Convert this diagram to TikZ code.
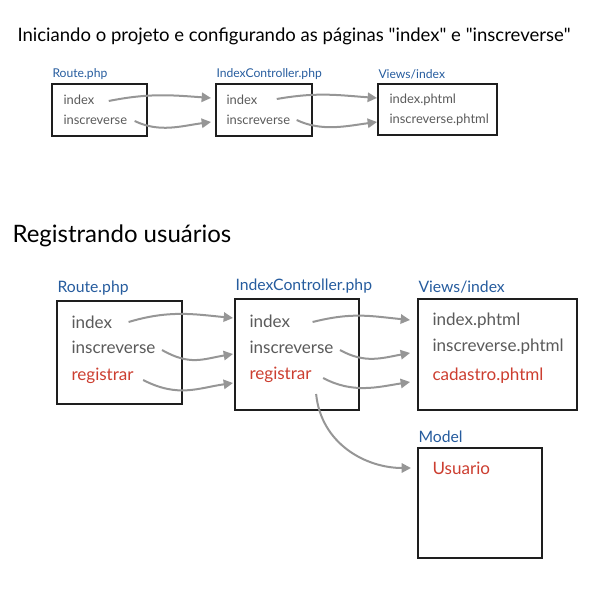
\documentclass[tikz,border=0pt]{standalone}
\usepackage{fontspec}
\setmainfont{Lato}
\usetikzlibrary{arrows.meta,calc}
\definecolor{lblblue}{RGB}{38,92,158}
\definecolor{itemgray}{RGB}{90,90,90}
\definecolor{itemred}{RGB}{204,62,48}
\definecolor{flowgray}{RGB}{150,150,150}
\definecolor{boxline}{RGB}{30,30,30}
\tikzset{every picture/.style={line width=0.75pt},
  titlehead/.style={anchor=west, inner sep=0, text=black, font=\fontsize{13.9}{16}\selectfont},
  sechead/.style={anchor=west, inner sep=0, text=black, font=\fontsize{18}{21}\selectfont},
  boxline/.style={draw=boxline, line width=1.4pt},
  lblsmall/.style={anchor=south west, inner sep=0, text=lblblue, font=\fontsize{9.1}{11}\selectfont},
  lblbig/.style={anchor=south west, inner sep=0, text=lblblue, font=\fontsize{11.8}{14}\selectfont},
  itemsmall/.style={anchor=west, inner sep=0, text=itemgray, font=\fontsize{9.7}{12}\selectfont},
  itembig/.style={anchor=west, inner sep=0, text=itemgray, font=\fontsize{12.8}{15}\selectfont},
  itemnew/.style={itembig, text=itemred},
  flow/.style={draw=flowgray, line width=1.5pt, -{Triangle[length=7pt,width=7pt]}}
}

\begin{document}
\begin{tikzpicture}[x=0.75pt,y=0.75pt,yscale=-1,xscale=1]
\useasboundingbox (0,0) rectangle (609,598);

%Titles
\node[titlehead] (ttlA) at (17,36) {Iniciando o projeto e configurando as páginas \textquotedbl index\textquotedbl{} e \textquotedbl inscreverse\textquotedbl};
\node[sechead] (ttlB) at (12,236) {Registrando usuários};

%Top row: boxes
\draw[boxline] (52,84) rectangle (147,136);
\draw[boxline] (216,84) rectangle (312,136);
\draw[boxline] (378,84) rectangle (497,135);
\node[lblsmall] (lrA) at (52,80) {Route.php};
\node[lblsmall] (lcA) at (216,80) {IndexController.php};
\node[lblsmall] (lvA) at (378,80) {Views/index};

%Top row: items
\node[itemsmall] (rA1) at (63,100) {index};
\node[itemsmall] (rA2) at (63,120) {inscreverse};
\node[itemsmall] (cA1) at (226,100) {index};
\node[itemsmall] (cA2) at (226,120) {inscreverse};
\node[itemsmall] (vA1) at (389,100) {index.phtml};
\node[itemsmall] (vA2) at (389,120) {inscreverse.phtml};

%Top row: arrows
\draw[flow] ($(rA1.east)+(14,1)$) .. controls +(40,-8) and +(-40,-3) .. ($(cA1.west)+(-15,-2)$);
\draw[flow] ($(rA2.east)+(7,1)$) .. controls +(25,12) and +(-30,4) .. ($(cA2.west)+(-15,2)$);
\draw[flow] ($(cA1.east)+(19,-1)$) .. controls +(40,-7) and +(-40,-3) .. ($(vA1.west)+(-12,-2)$);
\draw[flow] ($(cA2.east)+(6,0)$) .. controls +(25,12) and +(-30,4) .. ($(vA2.west)+(-12,2)$);

%Bottom row: boxes
\draw[boxline] (57,301) rectangle (182,404);
\draw[boxline] (235,299) rectangle (359,410);
\draw[boxline] (418,299) rectangle (577,410);
\draw[boxline] (418,448) rectangle (542,558);
\node[lblbig] (lrB) at (57,296) {Route.php};
\node[lblbig] (lcB) at (235,294) {IndexController.php};
\node[lblbig] (lvB) at (418,294) {Views/index};
\node[lblbig] (lmB) at (418,443) {Model};

%Bottom row: items
\node[itembig] (rB1) at (71,322) {index};
\node[itembig] (rB2) at (71,347) {inscreverse};
\node[itemnew] (rB3) at (71,376) {registrar};
\node[itembig] (cB1) at (249,321) {index};
\node[itembig] (cB2) at (249,347) {inscreverse};
\node[itemnew] (cB3) at (249,375) {registrar};
\node[itembig] (vB1) at (432,321) {index.phtml};
\node[itembig] (vB2) at (432,347) {inscreverse.phtml};
\node[itemnew] (vB3) at (432,376) {cadastro.phtml};
\node[itemnew] (mB1) at (432,468) {Usuario};

%Bottom row: arrows
\draw[flow] ($(rB1.east)+(16,0)$) .. controls +(40,-12) and +(-40,-4) .. ($(cB1.west)+(-16,-3)$);
\draw[flow] ($(rB2.east)+(6,3)$) .. controls +(28,16) and +(-30,5) .. ($(cB2.west)+(-16,7)$);
\draw[flow] ($(rB3.east)+(9,4)$) .. controls +(35,18) and +(-35,5) .. ($(cB3.west)+(-16,8)$);
\draw[flow] ($(cB1.east)+(22,1)$) .. controls +(40,-10) and +(-40,-4) .. ($(vB1.west)+(-22,-1)$);
\draw[flow] ($(cB2.east)+(6,3)$) .. controls +(25,14) and +(-28,5) .. ($(vB2.west)+(-22,6)$);
\draw[flow] ($(cB3.east)+(11,3)$) .. controls +(30,16) and +(-32,5) .. ($(vB3.west)+(-22,6)$);
\draw[flow] ($(cB3.east)+(4,19)$) .. controls +(5,50) and +(-45,0) .. ($(mB1.west)+(-21,0)$);

\end{tikzpicture}
\end{document}
